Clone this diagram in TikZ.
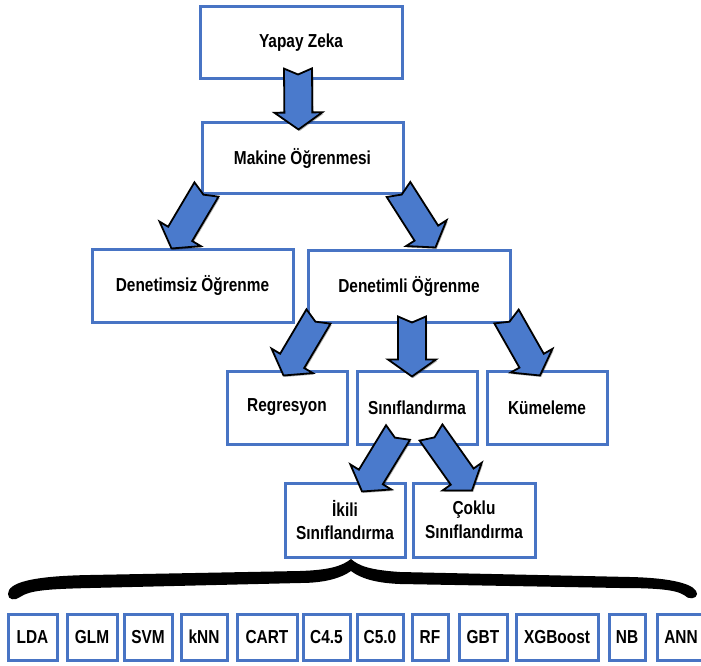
\documentclass[tikz,border=0pt]{standalone}
\usepackage{fontspec}
\newfontfamily\lblfont{Liberation Sans}[FakeStretch=0.82]
\usetikzlibrary{calc,shadows}

\definecolor{boxblue}{RGB}{72,116,196}
\definecolor{arrowblue}{RGB}{74,122,204}

\tikzset{
  box/.style={draw=boxblue, line width=3pt, fill=white, inner sep=0pt,
    align=center, text=black,
    font=\lblfont\bfseries\fontsize{18.8}{23.5}\selectfont,
    drop shadow={shadow xshift=1.5pt, shadow yshift=-1.5pt, fill=black, opacity=0.28}},
  bigbox/.style={box, minimum width=201pt, minimum height=72pt},
  midbox/.style={box, minimum width=120pt, minimum height=73pt},
  algbox/.style={box, minimum height=46pt},
  blockarrow/.style={draw=black, line width=1.8pt, line join=miter, fill=arrowblue,
    drop shadow={shadow xshift=1.2pt, shadow yshift=-1.5pt, fill=black, opacity=0.3}},
}

% notched block arrow from tail point #1 to tip point #2 (calc expressions)
\newcommand\notchedarrow[2]{%
  \path ($#1$) coordinate (na-t) ($#2$) coordinate (na-h);
  \pgfpointdiff{\pgfpointanchor{na-t}{center}}{\pgfpointanchor{na-h}{center}}%
  \pgfgetlastxy{\nadx}{\nady}%
  \pgfmathsetmacro\naang{atan2(\nady,\nadx)}%
  \pgfmathsetmacro\nalen{veclen(\nadx,\nady)}%
  \begin{scope}[shift={(na-t)}, rotate=\naang]
    \draw[blockarrow] (0,14) -- ({\nalen-17},14) -- ({\nalen-17},24) -- (\nalen,0)
      -- ({\nalen-17},-24) -- ({\nalen-17},-14) -- (0,-14) -- (6,0) -- cycle;
  \end{scope}
}

\begin{document}
\begin{tikzpicture}[x=1pt, y=-1pt]
  \useasboundingbox (0,0) rectangle (701,666);

  % hierarchy boxes
  \node[bigbox, minimum width=202pt] (yz) at (301,43) {Yapay Zeka};
  \node[bigbox, minimum height=70pt] (ml) at (302.5,158) {Makine Öğrenmesi};
  \node[bigbox, minimum height=73pt] (ds) at (192.5,285.5) {Denetimsiz Öğrenme};
  \node[bigbox, minimum width=202pt] (dl) at (409,286) {Denetimli Öğrenme};
  \node[midbox] (rg) at (287,407.5) {Regresyon};
  \node[midbox] (sf) at (417,407.5) {Sınıflandırma};
  \node[midbox] (km) at (547,407.5) {Kümeleme};
  \node[midbox, minimum height=74pt] (ik) at (345,520) {İkili\\Sınıflandırma};
  \node[midbox, minimum height=74pt, minimum width=122pt] (ck) at (474,520) {Çoklu\\Sınıflandırma};

  % algorithm boxes
  \node[algbox, minimum width=49pt] (lda) at (32.5,637) {LDA};
  \node[algbox, minimum width=50pt] (glm) at (92,637) {GLM};
  \node[algbox, minimum width=48pt] (svm) at (148,637) {SVM};
  \node[algbox, minimum width=46pt] (knn) at (204,637) {kNN};
  \node[algbox, minimum width=60pt] (cart) at (267,637) {CART};
  \node[algbox, minimum width=47pt] (c45) at (326.5,637) {C4.5};
  \node[algbox, minimum width=46pt] (c50) at (380,637) {C5.0};
  \node[algbox, minimum width=36pt] (rf) at (430,637) {RF};
  \node[algbox, minimum width=48pt] (gbt) at (483,637) {GBT};
  \node[algbox, minimum width=82pt] (xgb) at (557,637) {XGBoost};
  \node[algbox, minimum width=36pt] (nb) at (627,637) {NB};
  \node[algbox, minimum width=48pt] (ann) at (681,637) {ANN};

  % connecting arrows
  \notchedarrow{(yz.south)+(-3,-12)}{(ml.north)+(-4,8)}
  \notchedarrow{(ml.south west)+(6,-5)}{(ds.north west)+(81,1)}
  \notchedarrow{(ml.south east)+(-6,-5)}{(dl.north west)+(129,-1)}
  \notchedarrow{(dl.south west)+(12,-7)}{(rg.north west)+(58,6)}
  \notchedarrow{(dl.south)+(3,-7)}{(sf.north)+(-5,7)}
  \notchedarrow{(dl.south east)+(-5,-7)}{(km.north)+(-7,6)}
  \notchedarrow{(sf.south)+(-19,-13)}{(ik.north)+(17,10)}
  \notchedarrow{(sf.south)+(14,-13)}{(ck.north)+(-2,9)}

  % curly brace over the algorithm row
  \fill[black] (8,594) .. controls (8,583) and (30,576) .. (90,575)
    -- (300,571) .. controls (330,570) and (342,566) .. (351,559)
    .. controls (359,566) and (370,570) .. (400,572)
    -- (630,577) .. controls (675,578) and (697,585) .. (697,594)
    .. controls (697,599) and (688,600) .. (684,595)
    .. controls (675,589) and (650,588) .. (620,588)
    -- (400,584) .. controls (375,583) and (360,578) .. (351,571)
    .. controls (341,578) and (325,583) .. (300,583)
    -- (90,588) .. controls (50,589) and (30,590) .. (20,597)
    .. controls (15,601) and (8,600) .. (8,594) -- cycle;
\end{tikzpicture}
\end{document}
